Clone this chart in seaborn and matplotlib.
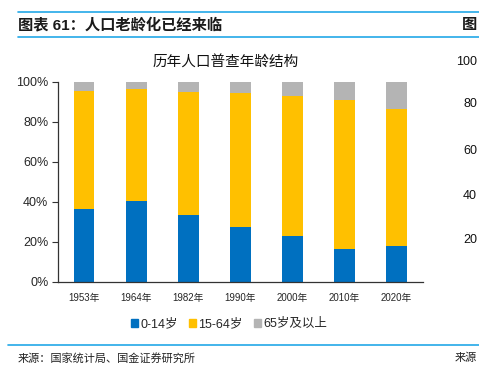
"""Stacked census age structure chart (100% bars)."""

import matplotlib
matplotlib.use("Agg")
import matplotlib.pyplot as plt
import numpy as np
import pandas as pd
import seaborn as sns

# data
years = ["1953年", "1964年", "1982年", "1990年", "2000年", "2010年", "2020年"]
age_0_14 = [36.3, 40.7, 33.6, 27.7, 22.9, 16.6, 17.9]
age_15_64 = [59.3, 55.7, 61.5, 66.7, 70.1, 74.5, 68.6]
age_65_up = [4.4, 3.6, 4.9, 5.6, 7.0, 8.9, 13.5]
series_names = ["0-14岁", "15-64岁", "65岁及以上"]
y_ticks = [0, 20, 40, 60, 80, 100]
# y-axis labels of the neighbouring chart, only its edge is visible
side_labels = ["100", "80", "60", "40", "20"]

BLUE = "#0070C0"
YELLOW = "#FFC000"
GREY = "#B4B4B4"
LINE_BLUE = "#22A8E8"

sns.set_theme(style="white")
plt.rcParams["font.family"] = ["Liberation Sans", "Noto Sans CJK SC", "DejaVu Sans"]

df = pd.DataFrame({"year": years, "young": age_0_14, "work": age_15_64, "old": age_65_up})
df["top2"] = df["young"] + df["work"]
df["top3"] = df["top2"] + df["old"]

fig = plt.figure(figsize=(4.79, 3.68), dpi=100)
ax = fig.add_axes([0.1211, 0.2337, 0.7614, 0.5435])

# stacked via overlaying cumulative totals
for col, color in [("top3", GREY), ("top2", YELLOW), ("young", BLUE)]:
    sns.barplot(data=df, x="year", y=col, color=color, width=0.4,
                saturation=1, ax=ax, linewidth=0)

ax.set_ylim(0, 100)
ax.set_xlim(-0.5, len(years) - 0.5)
ax.set_yticks(y_ticks)
ax.set_yticklabels([f"{v}%" for v in y_ticks], fontsize=9)
ax.set_xlabel("")
ax.set_ylabel("")
ax.tick_params(axis="x", which="major", length=0, labelsize=7, pad=8)
ax.set_xticks(np.arange(-0.5, len(years)), minor=True)
ax.tick_params(axis="x", which="minor", length=4, width=0.8, color="#333333", direction="out")
ax.tick_params(axis="y", length=4, width=0.8, color="#333333", direction="out", left=True, pad=3)
for side in ["top", "right"]:
    ax.spines[side].set_visible(False)
for side in ["left", "bottom"]:
    ax.spines[side].set_color("#333333")
    ax.spines[side].set_linewidth(0.9)

fig.text(226 / 479, 1 - 63 / 368, "历年人口普查年龄结构", ha="center", va="center",
         fontsize=10.5, color="#111111", family=["Noto Sans CJK SC"])

handles = [plt.Rectangle((0, 0), 1, 1, color=c) for c in (BLUE, YELLOW, GREY)]
fig.legend(handles, series_names, loc="center", bbox_to_anchor=(229 / 479, 1 - 324 / 368),
           ncol=3, frameon=False, fontsize=9, handlelength=0.6, handleheight=0.6,
           handletextpad=0.15, columnspacing=0.9)

# page furniture: header, rules, source note, edge of neighbouring chart
fig.add_artist(plt.Line2D([18 / 479, 1], [1 - 12 / 368] * 2, color=LINE_BLUE, lw=1.2))
fig.add_artist(plt.Line2D([18 / 479, 1], [1 - 37 / 368] * 2, color=LINE_BLUE, lw=1.2))
fig.add_artist(plt.Line2D([8 / 479, 1], [1 - 345 / 368] * 2, color=LINE_BLUE, lw=1.2))
fig.text(18 / 479, 1 - 24.5 / 368, "图表 61：人口老龄化已经来临", ha="left", va="center",
         fontsize=11, fontweight="bold", color="#1a1a1a")
fig.text(477 / 479, 1 - 24.5 / 368, "图", ha="right", va="center",
         fontsize=11, fontweight="bold", color="#1a1a1a")
fig.text(18 / 479, 1 - 358 / 368, "来源：国家统计局、国金证券研究所", ha="left", va="center",
         fontsize=8, color="#222222")
fig.text(477 / 479, 1 - 358 / 368, "来源", ha="right", va="center", fontsize=8, color="#222222")
for label, ypix in zip(side_labels, [62, 104, 151, 196, 240]):
    fig.text(477 / 479, 1 - ypix / 368, label, ha="right", va="center",
             fontsize=9, color="#111111")

fig.savefig("out.png", dpi=100)
